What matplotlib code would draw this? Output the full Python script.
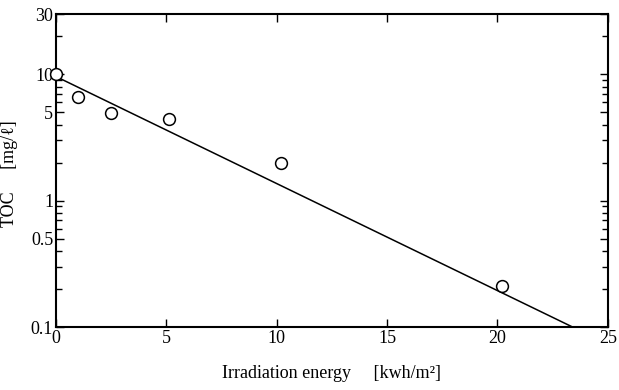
import matplotlib
matplotlib.use('Agg')
import matplotlib.pyplot as plt
from matplotlib.ticker import FixedLocator, LogLocator, NullFormatter
import numpy as np

plt.rcParams['font.family'] = ['Liberation Serif', 'DejaVu Serif']

# measured points
energy = [0, 1.0, 2.5, 5.1, 10.2, 20.2]
toc = [10.0, 6.6, 4.9, 4.4, 1.98, 0.21]

# fitted line end points
fit_x = [0, 23.4]
fit_y = [9.6, 0.1]

x_ticks = [0, 5, 10, 15, 20, 25]
y_ticks = [0.1, 0.5, 1, 5, 10, 30]
y_labels = ['0.1', '0.5', '1', '5', '10', '30']

fig = plt.figure(figsize=(6.19, 3.90), dpi=100)
ax = fig.add_axes([0.0905, 0.1615, 0.8915, 0.8025])

ax.plot(fit_x, fit_y, color='black', lw=1.1, zorder=2)
ax.plot(energy, toc, 'o', ms=8.5, mfc='white', mec='black', mew=1.1,
        clip_on=False, zorder=3)

ax.set_yscale('log')
ax.set_xlim(0, 25)
ax.set_ylim(0.1, 30)

ax.set_xticks(x_ticks)
ax.set_xticklabels([str(t) for t in x_ticks])
ax.yaxis.set_major_locator(FixedLocator(y_ticks))
ax.set_yticklabels(y_labels)
ax.yaxis.set_minor_locator(LogLocator(base=10, subs=np.arange(2, 10)))
ax.yaxis.set_minor_formatter(NullFormatter())

ax.tick_params(which='both', direction='in', top=True, right=True,
               labelsize=13, width=1.0, pad=2)
ax.tick_params(which='major', length=6)
ax.tick_params(which='minor', length=4)
for s in ax.spines.values():
    s.set_linewidth(1.5)

ax.set_xlabel('Irradiation energy     [kwh/m²]', fontsize=13)
ax.xaxis.set_label_coords(0.5, -0.12)
ax.set_ylabel('TOC     [mg/ℓ]', fontsize=13)
ax.yaxis.set_label_coords(-0.068, 0.49)

fig.savefig('out.png', dpi=100, facecolor='white')
